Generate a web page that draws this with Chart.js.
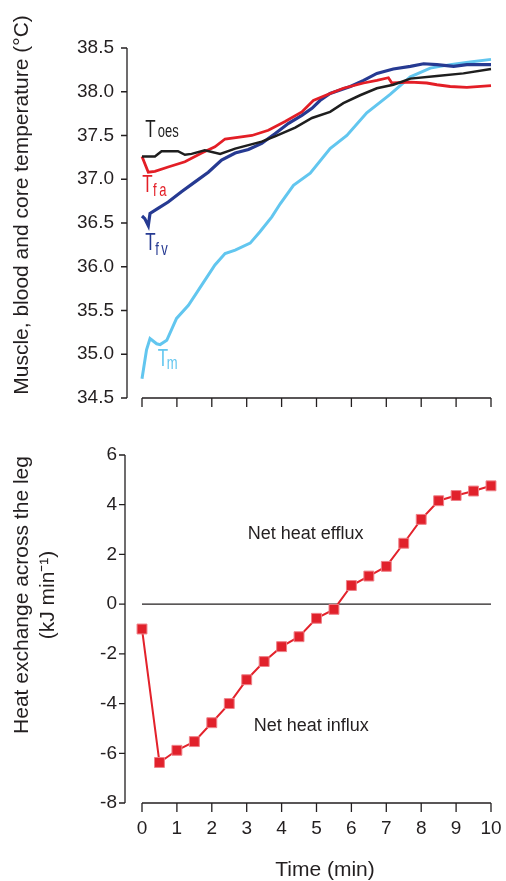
<!DOCTYPE html>
<html>
<head>
<meta charset="utf-8">
<script src="https://cdn.jsdelivr.net/npm/chart.js@4.4.1/dist/chart.umd.min.js"></script>
<style>
  body { margin: 0; background: #fff; }
  canvas { display: block; }
</style>
</head>
<body>
<canvas id="tempChart" width="506" height="425"></canvas>
<canvas id="heatChart" width="506" height="456"></canvas>
<script>
// oesophageal temperature
var timeOes = [0, 0.37, 0.56, 1.03, 1.23, 1.42, 1.8, 2.24, 2.67, 3.43, 3.81, 4.39, 4.87, 5.39, 5.77, 6.25, 6.73, 7.2, 7.69, 8.45, 9.21, 10];
var tempOes = [37.26, 37.26, 37.32, 37.32, 37.28, 37.29, 37.33, 37.29, 37.35, 37.43, 37.49, 37.59, 37.7, 37.77, 37.87, 37.96, 38.04, 38.08, 38.15, 38.18, 38.21, 38.26];
// femoral arterial
var timeFa = [0, 0.18, 0.37, 0.75, 1.23, 1.71, 2.09, 2.38, 2.95, 3.15, 3.62, 4.1, 4.58, 4.91, 5.39, 5.77, 6.35, 6.73, 7.06, 7.16, 7.69, 8.16, 8.45, 8.83, 9.31, 10];
var tempFa = [37.26, 37.08, 37.09, 37.14, 37.2, 37.3, 37.37, 37.46, 37.49, 37.5, 37.56, 37.66, 37.77, 37.9, 37.98, 38.04, 38.1, 38.13, 38.16, 38.1, 38.11, 38.1, 38.08, 38.06, 38.05, 38.07];
// femoral venous
var timeFv = [0, 0.08, 0.18, 0.23, 0.47, 0.75, 1.14, 1.52, 1.9, 2.28, 2.67, 3.05, 3.43, 3.81, 4.2, 4.58, 4.87, 5.1, 5.39, 5.97, 6.35, 6.73, 7.2, 7.69, 8.07, 8.45, 8.93, 9.31, 10];
var tempFv = [36.58, 36.55, 36.47, 36.61, 36.67, 36.74, 36.86, 36.97, 37.08, 37.22, 37.3, 37.34, 37.41, 37.52, 37.64, 37.73, 37.81, 37.9, 37.98, 38.06, 38.13, 38.21, 38.26, 38.29, 38.32, 38.31, 38.29, 38.31, 38.31];
// muscle
var timeM = [0, 0.13, 0.23, 0.42, 0.52, 0.71, 0.99, 1.33, 1.71, 2.09, 2.38, 2.67, 3.1, 3.38, 3.72, 3.96, 4.34, 4.82, 5.39, 5.87, 6.44, 7.11, 7.69, 8.26, 8.83, 9.4, 10];
var tempM = [34.72, 35.05, 35.18, 35.12, 35.11, 35.16, 35.41, 35.56, 35.79, 36.02, 36.15, 36.19, 36.27, 36.4, 36.57, 36.72, 36.93, 37.07, 37.35, 37.5, 37.76, 37.97, 38.17, 38.27, 38.31, 38.34, 38.37];

var heatTime = [0, 0.5, 1, 1.5, 2, 2.5, 3, 3.5, 4, 4.5, 5, 5.5, 6, 6.5, 7, 7.5, 8, 8.5, 9, 9.5, 10];
var heatExchange = [-1.0, -6.37, -5.88, -5.53, -4.77, -4.0, -3.04, -2.31, -1.71, -1.31, -0.57, -0.21, 0.75, 1.13, 1.52, 2.45, 3.41, 4.16, 4.37, 4.55, 4.76];

var tempTicks = [34.5, 35.0, 35.5, 36.0, 36.5, 37.0, 37.5, 38.0, 38.5];
var heatTicks = [-8, -6, -4, -2, 0, 2, 4, 6];
var timeTicks = [0, 1, 2, 3, 4, 5, 6, 7, 8, 9, 10];

var seriesSub = ["oes", "f\u2009a", "f\u2009v", "m"];

var FONT = '"Liberation Sans", Arial, Helvetica, sans-serif';
var INK = "#231f20";
Chart.defaults.font.family = FONT;
Chart.defaults.color = INK;

function pairs(xs, ys) {
  return xs.map(function (x, i) { return { x: x, y: ys[i] }; });
}

function setTicks(list) {
  return function (scale) {
    scale.ticks = list.map(function (v) { return { value: v }; });
  };
}

// fixed scale sizes so both panels line up with the figure
function fitX(h) {
  return function (s) { s.height = h; s.paddingLeft = 0; s.paddingRight = 0; };
}
function fitY(w) {
  return function (s) { s.width = w; s.paddingTop = 0; s.paddingBottom = 0; };
}

// axis lines drawn apart from the plot, like the journal figure
var axisFrame = {
  id: "axisFrame",
  afterDraw: function (chart, args, opts) {
    var ctx = chart.ctx, xs = chart.scales.x, ys = chart.scales.y;
    var ax = chart.chartArea.left - opts.gap;
    var ay = chart.chartArea.bottom;
    ctx.save();
    ctx.strokeStyle = INK;
    ctx.lineWidth = 1.3;
    ctx.beginPath();
    ctx.moveTo(ax, ys.getPixelForValue(ys.max));
    ctx.lineTo(ax, ys.getPixelForValue(ys.min));
    ys.ticks.forEach(function (t) {
      var py = ys.getPixelForValue(t.value);
      ctx.moveTo(ax - 6, py);
      ctx.lineTo(ax, py);
    });
    ctx.moveTo(xs.getPixelForValue(xs.min), ay);
    ctx.lineTo(xs.getPixelForValue(xs.max), ay);
    xs.ticks.forEach(function (t) {
      var px = xs.getPixelForValue(t.value);
      ctx.moveTo(px, ay);
      ctx.lineTo(px, ay + 9);
    });
    ctx.stroke();

    ctx.fillStyle = INK;
    ctx.textAlign = "center";
    ctx.textBaseline = "middle";
    ctx.font = "21px " + FONT;
    (opts.yTitle || []).forEach(function (line, i) {
      ctx.save();
      ctx.translate(opts.yTitleX + i * 26, opts.yTitleY);
      ctx.rotate(-Math.PI / 2);
      ctx.fillText(line, 0, 0);
      ctx.restore();
    });
    if (opts.xTitle) {
      ctx.fillText(opts.xTitle, opts.xTitleX, opts.xTitleY);
    }
    ctx.restore();
  }
};

// series names next to the traces
var seriesNames = {
  id: "seriesNames",
  afterDatasetsDraw: function (chart) {
    var ctx = chart.ctx, xs = chart.scales.x, ys = chart.scales.y;
    var at = [[0.09, 37.48], [0.01, 36.86], [0.09, 36.19], [0.45, 34.87]];
    var subDx = [12.7, 10.7, 10, 9];
    var subDy = [0, 4, 5, 3];
    chart.data.datasets.forEach(function (ds, i) {
      ctx.save();
      ctx.translate(xs.getPixelForValue(at[i][0]), ys.getPixelForValue(at[i][1]));
      ctx.scale(1, 1.4);
      ctx.fillStyle = ds.borderColor;
      ctx.textAlign = "left";
      ctx.textBaseline = "alphabetic";
      ctx.font = "17px " + FONT;
      ctx.fillText("T", 0, 0);
      ctx.font = "13px " + FONT;
      ctx.fillText(seriesSub[i], subDx[i], subDy[i] / 1.4);
      ctx.restore();
    });
  }
};

var heatNotes = {
  id: "heatNotes",
  beforeDatasetsDraw: function (chart) {
    var ctx = chart.ctx, xs = chart.scales.x, ys = chart.scales.y;
    var y0 = ys.getPixelForValue(0);
    ctx.save();
    ctx.strokeStyle = INK;
    ctx.lineWidth = 1.3;
    ctx.beginPath();
    ctx.moveTo(xs.getPixelForValue(0), y0);
    ctx.lineTo(xs.getPixelForValue(10), y0);
    ctx.stroke();
    ctx.fillStyle = INK;
    ctx.font = "18px " + FONT;
    ctx.textAlign = "center";
    ctx.textBaseline = "middle";
    ctx.fillText("Net heat efflux", xs.getPixelForValue(4.69), ys.getPixelForValue(2.82));
    ctx.fillText("Net heat influx", xs.getPixelForValue(4.85), ys.getPixelForValue(-4.92));
    ctx.restore();
  }
};

function line(data, color, width) {
  return {
    data: data,
    borderColor: color,
    borderWidth: width,
    pointRadius: 0,
    tension: 0,
    clip: false
  };
}

new Chart("tempChart", {
  type: "line",
  data: {
    datasets: [
      line(pairs(timeOes, tempOes), "#1e1e1e", 2.5),
      line(pairs(timeFa, tempFa), "#e31e26", 2.8),
      line(pairs(timeFv, tempFv), "#263a92", 3.2),
      line(pairs(timeM, tempM), "#62c6ef", 3)
    ]
  },
  options: {
    responsive: false,
    animation: false,
    layout: { padding: { top: 48, right: 15, bottom: 0, left: 0 } },
    plugins: {
      legend: { display: false },
      tooltip: { enabled: false },
      axisFrame: {
        gap: 15,
        yTitle: ["Muscle, blood and core temperature (\u00b0C)"],
        yTitleX: 22,
        yTitleY: 205
      }
    },
    scales: {
      x: {
        type: "linear",
        min: 0,
        max: 10,
        afterBuildTicks: setTicks(timeTicks),
        grid: { display: false, drawTicks: false },
        border: { display: false },
        ticks: { display: false },
        afterFit: fitX(27)
      },
      y: {
        min: 34.5,
        max: 38.5,
        afterBuildTicks: setTicks(tempTicks),
        grid: { display: false, drawTicks: false },
        border: { display: false },
        ticks: {
          padding: 28,
          font: { size: 19 },
          callback: function (v) { return v.toFixed(1); }
        },
        afterFit: fitY(142)
      }
    }
  },
  plugins: [axisFrame, seriesNames]
});

new Chart("heatChart", {
  type: "line",
  data: {
    datasets: [{
      data: pairs(heatTime, heatExchange),
      borderColor: "#e3222b",
      borderWidth: 2,
      pointStyle: "rect",
      pointRadius: 7,
      pointBackgroundColor: "#e1212b",
      pointBorderColor: "#ef8088",
      pointBorderWidth: 1,
      tension: 0,
      clip: false
    }]
  },
  options: {
    responsive: false,
    animation: false,
    layout: { padding: { top: 30, right: 15, bottom: 0, left: 0 } },
    plugins: {
      legend: { display: false },
      tooltip: { enabled: false },
      axisFrame: {
        gap: 17,
        yTitle: ["Heat exchange across the leg", "(kJ min\u207b\u00b9)"],
        yTitleX: 22,
        yTitleY: 170,
        xTitle: "Time (min)",
        xTitleX: 325,
        xTitleY: 445
      }
    },
    scales: {
      x: {
        type: "linear",
        min: 0,
        max: 10,
        afterBuildTicks: setTicks(timeTicks),
        grid: { display: false, drawTicks: false },
        border: { display: false },
        ticks: { padding: 14, font: { size: 19 } },
        afterFit: fitX(78)
      },
      y: {
        min: -8,
        max: 6,
        afterBuildTicks: setTicks(heatTicks),
        grid: { display: false, drawTicks: false },
        border: { display: false },
        ticks: { padding: 25, font: { size: 19 } },
        afterFit: fitY(142)
      }
    }
  },
  plugins: [axisFrame, heatNotes]
});
</script>
</body>
</html>
